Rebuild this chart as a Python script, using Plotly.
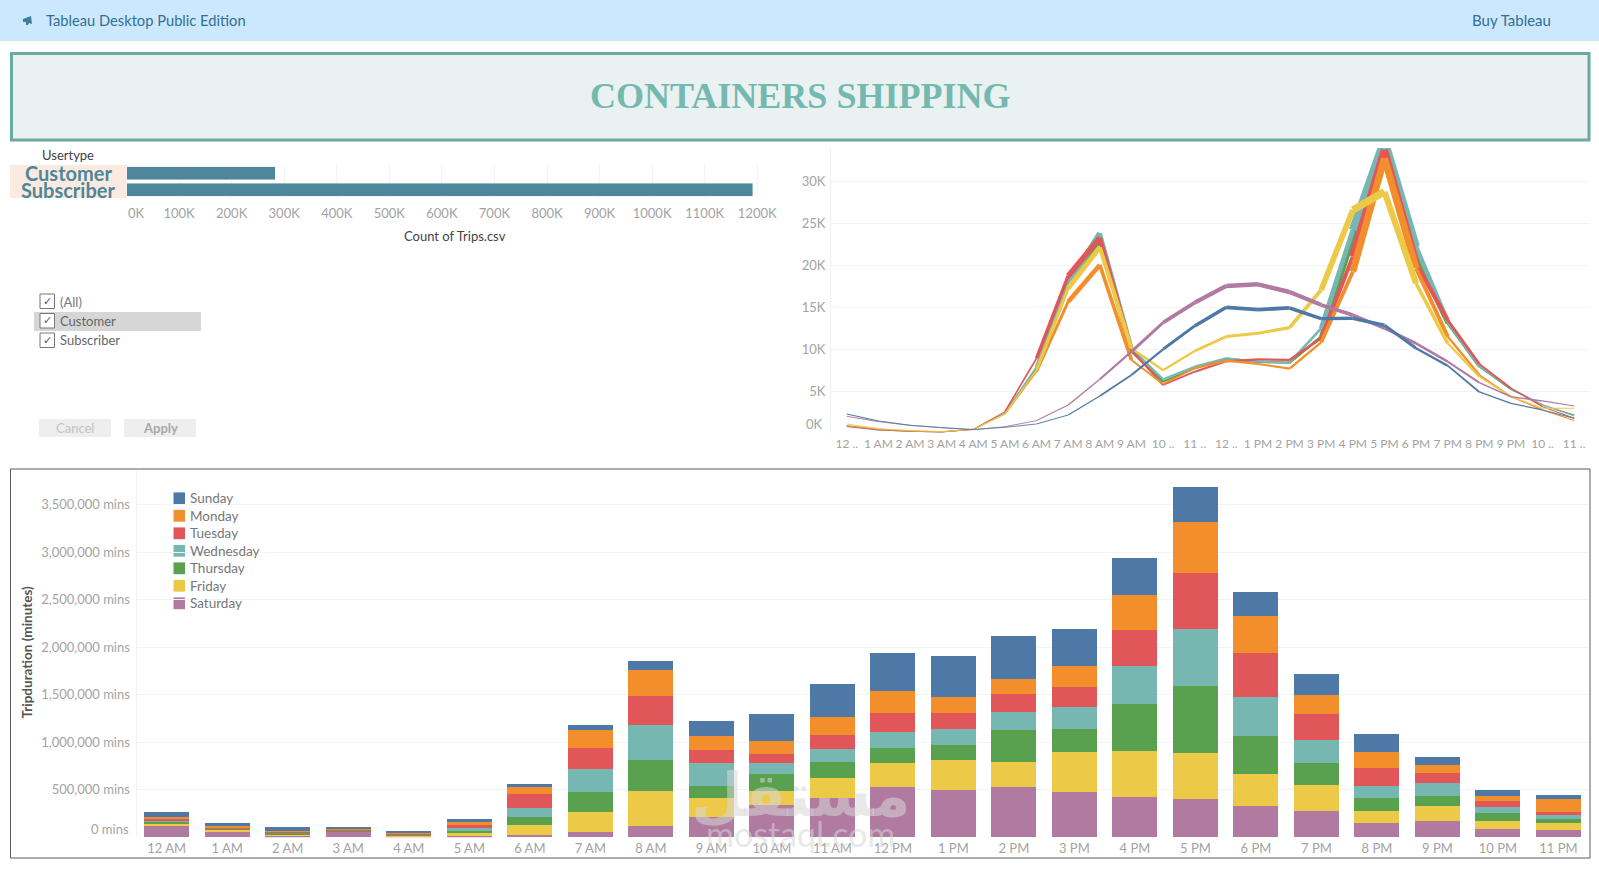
import plotly.graph_objects as go

W, H = 1599, 870
FONT = "Lato"

# ---- trip counts by user type
usertypes = ["Customer", "Subscriber"]
trip_counts = [282600, 1191000]

# ---- hours of the day
hours = ["12 AM", "1 AM", "2 AM", "3 AM", "4 AM", "5 AM", "6 AM", "7 AM", "8 AM", "9 AM", "10 AM", "11 AM",
         "12 PM", "1 PM", "2 PM", "3 PM", "4 PM", "5 PM", "6 PM", "7 PM", "8 PM", "9 PM", "10 PM", "11 PM"]
hour_labels_short = ["12 ..", "1 AM", "2 AM", "3 AM", "4 AM", "5 AM", "6 AM", "7 AM", "8 AM", "9 AM", "10 ..", "11 ..",
                     "12 ..", "1 PM", "2 PM", "3 PM", "4 PM", "5 PM", "6 PM", "7 PM", "8 PM", "9 PM", "10 ..", "11 .."]

# ---- trips per hour, one list per weekday
trips_sunday = [2300, 1470, 950, 670, 440, 710, 1110, 2180, 4440, 6940, 10000, 12780,
                15000, 14720, 14920, 13650, 13690, 12860, 10120, 8050, 4920, 3570, 2780, 1790]
trips_monday = [910, 520, 280, 200, 440, 2300, 7340, 15670, 20040, 8730, 5870, 7740,
                8650, 8250, 7700, 10830, 19240, 32740, 19640, 11510, 6940, 4360, 2780, 1510]
trips_tuesday = [790, 400, 240, 160, 480, 2580, 8930, 18730, 23290, 9920, 5750, 7340,
                 8570, 8810, 8730, 11310, 21030, 33730, 20240, 13490, 8250, 5360, 3170, 1790]
trips_wednesday = [870, 400, 240, 160, 480, 2460, 7940, 17860, 23810, 10120, 6430, 7940,
                   8930, 8530, 8410, 12500, 24200, 34920, 22220, 13290, 7940, 5360, 3370, 2060]
trips_thursday = [870, 400, 240, 160, 480, 2380, 7740, 17460, 23010, 9720, 6150, 7740,
                  8890, 8490, 8410, 11510, 23010, 34130, 20960, 13090, 7940, 5240, 3370, 2180]
trips_friday = [1110, 560, 320, 200, 480, 2300, 7540, 17260, 22140, 10120, 7500, 9800,
                11510, 11900, 12580, 17060, 26590, 28760, 17860, 10710, 6740, 4360, 2980, 2980]
trips_saturday = [2020, 1390, 950, 670, 440, 790, 1510, 3370, 6430, 9720, 13170, 15550,
                  17540, 17740, 16820, 15280, 14090, 12500, 10710, 8530, 6030, 4360, 3850, 3250]

# ---- trip duration in minutes per hour, one list per weekday
mins_sunday = [59500, 31500, 35000, 17500, 10500, 35000, 28000, 52500, 91000, 154000, 290500, 343000,
               402500, 430500, 455000, 385000, 385000, 371000, 245000, 220500, 185500, 91000, 59500, 42000]
mins_monday = [14000, 10500, 7000, 10500, 10500, 24500, 77000, 182000, 276500, 150500, 129500, 192500,
               227500, 164500, 157500, 220500, 378000, 532000, 392000, 192500, 175000, 87500, 52500, 133000]
mins_tuesday = [17500, 10500, 10500, 7000, 10500, 31500, 143500, 231000, 304500, 140000, 105000, 147000,
                203000, 175000, 185500, 210000, 374500, 588000, 465500, 280000, 182000, 98000, 63000, 35000]
mins_wednesday = [14000, 7000, 7000, 3500, 3500, 38500, 94500, 238000, 367500, 234500, 112000, 140000,
                  164500, 168000, 185500, 227500, 402500, 602000, 409500, 245000, 133000, 136500, 70000, 38500]
mins_thursday = [17500, 10500, 17500, 3500, 3500, 14000, 87500, 206500, 322000, 133000, 175000, 168000,
                 161000, 157500, 339500, 245000, 490000, 703500, 402500, 227500, 129500, 108500, 80500, 49000]
mins_friday = [24500, 24500, 10500, 3500, 10500, 31500, 101500, 210000, 367500, 192500, 150500, 206500,
               259000, 315000, 262500, 420000, 483000, 486500, 336000, 269500, 133000, 154000, 84000, 70000]
mins_saturday = [122500, 52500, 17500, 59500, 10500, 17500, 28000, 59500, 122500, 217000, 339500, 413000,
                 525000, 497000, 532000, 479500, 427000, 402500, 329000, 280000, 147000, 175000, 87500, 77000]

# ---- weekday colours
colors = {"Sunday": "#4e79a7", "Monday": "#f28e2b", "Tuesday": "#e15759", "Wednesday": "#76b7b2",
          "Thursday": "#59a14f", "Friday": "#edc948", "Saturday": "#b07aa1"}

line_series = [("Thursday", trips_thursday), ("Wednesday", trips_wednesday), ("Tuesday", trips_tuesday),
               ("Monday", trips_monday), ("Friday", trips_friday), ("Saturday", trips_saturday),
               ("Sunday", trips_sunday)]
bar_series = [("Saturday", mins_saturday), ("Friday", mins_friday), ("Thursday", mins_thursday),
              ("Wednesday", mins_wednesday), ("Tuesday", mins_tuesday), ("Monday", mins_monday),
              ("Sunday", mins_sunday)]

count_ticks = [100000 * i for i in range(1, 13)]
count_tick_text = [f"{i * 100}K" for i in range(1, 13)]
line_ticks = [5000, 10000, 15000, 20000, 25000, 30000]
line_tick_text = ["5K", "10K", "15K", "20K", "25K", "30K"]
mins_ticks = [500000, 1000000, 1500000, 2000000, 2500000, 3000000, 3500000]
mins_tick_text = ["500,000 mins", "1,000,000 mins", "1,500,000 mins", "2,000,000 mins",
                  "2,500,000 mins", "3,000,000 mins", "3,500,000 mins"]


def px(x):
    return x / W


def py(y):
    return 1 - y / H


def rect(x0, y0, x1, y1, fill="rgba(0,0,0,0)", line=None, lw=0, layer="below"):
    return dict(type="rect", xref="paper", yref="paper", x0=px(x0), x1=px(x1), y0=py(y0), y1=py(y1),
                fillcolor=fill, line=dict(color=line or "rgba(0,0,0,0)", width=lw), layer=layer)


def label(text, x, y, size=13, color="#555", anchor="center", weight=None, family=FONT, angle=0):
    return dict(text=text, x=px(x), y=py(y), xref="paper", yref="paper", showarrow=False, xanchor=anchor,
                yanchor="middle", textangle=angle,
                font=dict(size=size, color=color, family=family, weight=weight))


def line_width(value):
    # line thickness follows the trip count, as in a size-encoded line mark
    return 0.8 + (value / 15000) ** 1.3 * 3.0


fig = go.Figure()

# Trips by user type
fig.add_trace(go.Bar(x=trip_counts, y=usertypes, orientation="h", width=0.8, marker_color="#4e869b",
                     xaxis="x", yaxis="y", showlegend=False))

# Hourly trips: each line is split into pieces so its width can change with the value
for day, values in line_series:
    for i in range(len(hours) - 1):
        fig.add_trace(go.Scatter(x=hours[i:i + 2], y=values[i:i + 2], mode="lines", xaxis="x2", yaxis="y2",
                                 line=dict(color=colors[day], width=line_width((values[i] + values[i + 1]) / 2)),
                                 showlegend=False, name=day))

# Stacked minutes per hour
for day, values in bar_series:
    fig.add_trace(go.Bar(x=hours, y=values, name=day, width=0.744, marker=dict(color=colors[day], line_width=0),
                         xaxis="x3", yaxis="y3", showlegend=False))

TICK = dict(color="#a3a3a3", size=13, family=FONT)
GRID = "#f3f3f3"

shapes = [
    rect(0, 0, W, 41, fill="#cce8ff"),
    rect(11.5, 53.5, 1589, 140, fill="#e9f2f0", line="#6aaba0", lw=3),
    rect(10, 165, 126.5, 198, fill="#fbeadf"),
    rect(34, 312, 201, 331, fill="#d6d6d6"),
    rect(39, 419, 111, 437, fill="#eeeeee"),
    rect(124, 419, 196, 437, fill="#eeeeee"),
    rect(10.5, 469, 1590, 858, line="#5a5a5a", lw=1),
]
for top in (294, 313.5, 333):
    shapes.append(rect(40, top, 54.5, top + 14.5, fill="#ffffff", line="#777777", lw=1))

# Megaphone glyph in the header bar
shapes.append(dict(type="path", xref="paper", yref="paper", fillcolor="#3f7f9c", line=dict(width=0),
                   path=f"M {px(23)} {py(19)} L {px(31)} {py(16)} L {px(32)} {py(24)} L {px(29)} {py(23)} "
                        f"L {px(28)} {py(25)} L {px(26)} {py(25)} L {px(26)} {py(22)} L {px(23)} {py(22)} Z"))

annotations = [
    label("Tableau Desktop Public Edition", 44, 20, size=14.7, color="#33708f", anchor="left"),
    label("Buy Tableau", 1553, 20, size=15, color="#33708f", anchor="right"),
    label("CONTAINERS SHIPPING", 800, 96, size=36, color="#74b8af", weight="bold", family="Liberation Serif"),
    label("Usertype", 68, 155.5, size=13, color="#444"),
    label("Customer", 68, 173.5, size=20, color="#4e869b", weight="bold"),
    label("Subscriber", 68, 190, size=20, color="#4e869b", weight="bold"),
    label("0K", 136, 213, size=13, color="#a3a3a3"),
    label("Count of Trips.csv", 455, 235.5, size=13, color="#444"),
    label("(All)", 58, 302, size=13, color="#777", anchor="left"),
    label("Customer", 58, 321, size=13, color="#666", anchor="left"),
    label("Subscriber", 58, 340.5, size=13, color="#666", anchor="left"),
    label("Cancel", 75, 428, size=13, color="#c4c4c4"),
    label("Apply", 160, 428, size=13, color="#a8a8a8", weight="bold"),
    label("0K", 825, 424, size=13, color="#a3a3a3", anchor="right"),
    label("0 mins", 131, 829, size=13, color="#a3a3a3", anchor="right"),
    label("Tripduration (minutes)", 26.5, 652, size=13.5, color="#555", weight="bold", angle=-90),
    label("مستقل", 800, 795, size=60, color="rgba(215,215,215,0.55)", weight="bold", family="DejaVu Sans"),
    label("mostaql.com", 800, 833, size=34, color="rgba(215,215,215,0.55)", family="Lato"),
]
for y_mid in (301.5, 321, 340.5):
    annotations.append(label("✓", 47, y_mid, size=11, color="#555", family="DejaVu Sans"))

# Weekday key inside the stacked chart, Sunday first
for row, (day, _) in enumerate(reversed(bar_series)):
    mid = 498.3 + 17.5 * row
    shapes.append(rect(173.5, mid - 5.9, 185, mid + 5.9, fill=colors[day]))
    annotations.append(label(day, 187.5, mid, size=13.5, color="#777", anchor="left"))

fig.update_layout(
    width=W, height=H, autosize=False, margin=dict(l=0, r=0, t=0, b=0),
    paper_bgcolor="#ffffff", plot_bgcolor="#ffffff", barmode="stack",
    font=dict(family=FONT), shapes=shapes, annotations=annotations, showlegend=False,
    xaxis=dict(domain=[px(126.5), px(783)], range=[0, 1249000], tickmode="array", tickvals=count_ticks,
               ticktext=count_tick_text, tickfont=TICK, ticklabelstandoff=6, gridcolor=GRID, zeroline=False,
               showline=False, anchor="y", tickangle=0),
    yaxis=dict(domain=[py(198), py(165)], categoryorder="array", categoryarray=usertypes, autorange="reversed",
               showticklabels=False, showgrid=False, zeroline=False, anchor="x"),
    xaxis2=dict(domain=[px(831), px(1590)], type="category", categoryorder="array", categoryarray=hours,
                range=[-0.5, 23.5], tickmode="array", tickvals=hours, ticktext=hour_labels_short,
                tickfont=dict(color="#a3a3a3", size=12, family=FONT),
                tickangle=0, showgrid=False, zeroline=False, ticklabelstandoff=2, anchor="y2"),
    yaxis2=dict(domain=[py(433.3), py(148)], range=[0, 33960], tickmode="array", tickvals=line_ticks,
                ticktext=line_tick_text, tickfont=TICK, gridcolor=GRID, zeroline=False, showline=True,
                linecolor="#f0f0f0", ticklabelstandoff=2, anchor="x2"),
    xaxis3=dict(domain=[px(136.5), px(1588.7)], type="category", categoryorder="array", categoryarray=hours,
                range=[-0.5, 23.5], tickfont=TICK, tickangle=0, showgrid=False, zeroline=False,
                ticklabelstandoff=2, anchor="y3"),
    yaxis3=dict(domain=[py(837.3), py(470)], range=[0, 3866000], tickmode="array", tickvals=mins_ticks,
                ticktext=mins_tick_text, tickfont=TICK, gridcolor=GRID, zeroline=False,
                showline=True, linecolor="#f3f3f3", ticklabelstandoff=3, anchor="x3"),
)

fig.write_html("out.html", config=dict(displayModeBar=False))
